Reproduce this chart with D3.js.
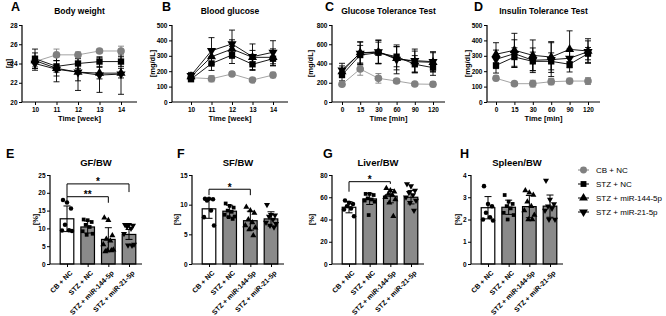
<!DOCTYPE html>
<html lang="en">
<head>
<meta charset="UTF-8">
<title>Body weight, glucose tests and organ ratios</title>
<script src="https://d3js.org/d3.v7.min.js"></script>
<style>
  body { margin: 0; background: #fff; }
  svg { font-family: "Liberation Sans", Arial, sans-serif; }
</style>
</head>
<body>
<svg id="chart" width="666" height="316"></svg>
<script>
// groups and x categories
const groups = ["CB + NC", "STZ + NC", "STZ + miR-144-5p", "STZ + miR-21-5p"];
const weeks = ["10", "11", "12", "13", "14"];
const minutes = ["0", "15", "30", "60", "90", "120"];

// A - body weight [g] (mean, SD), one row per group
const bwMean = [[24.2, 24.9, 24.9, 25.3, 25.3], [24.5, 23.7, 24.0, 24.2, 24.2], [24.3, 23.5, 23.1, 23.0, 23.0], [24.0, 23.4, 23.1, 22.8, 22.9]];
const bwSD = [[0.5, 0.6, 0.3, 0.2, 0.5], [1.0, 0.6, 0.5, 0.5, 0.5], [0.8, 0.8, 0.9, 0.6, 0.5], [0.7, 1.3, 1.9, 1.8, 2.1]];

// B - blood glucose [mg/dL]
const bgMean = [[158, 151, 182, 143, 175], [148, 250, 305, 245, 281], [165, 294, 344, 290, 290], [172, 333, 377, 294, 323]];
const bgSD = [[15, 20, 12, 10, 18], [15, 45, 55, 40, 45], [18, 50, 60, 45, 55], [20, 85, 90, 83, 75]];

// C - glucose tolerance test [mg/dL]
const gttMean = [[184, 343, 246, 218, 187, 184], [280, 488, 512, 471, 392, 357], [315, 512, 520, 454, 419, 412], [332, 506, 520, 443, 430, 419]];
const gttSD = [[20, 65, 50, 22, 15, 25], [60, 100, 110, 105, 90, 80], [60, 110, 120, 120, 110, 100], [70, 120, 124, 150, 120, 104]];

// D - insulin tolerance test [mg/dL]
const ittMean = [[154, 119, 119, 132, 136, 136], [238, 292, 264, 264, 245, 314], [310, 336, 303, 292, 342, 331], [277, 314, 271, 275, 284, 327]];
const ittSD = [[15, 10, 22, 20, 18, 22], [50, 60, 60, 55, 50, 40], [75, 110, 100, 100, 120, 80], [60, 90, 80, 110, 60, 70]];

// E - GF/BW [%]
const gfMean = [12.7, 10.4, 6.9, 8.3];
const gfSD = [3.6, 1.7, 3.3, 1.4];
const gfPoints = [[18.0, 17.3, 15.6, 11.0, 9.5, 9.4, 9.3], [12.5, 12.3, 11.8, 11.0, 10.4, 9.2, 8.5, 8.2], [13.0, 12.3, 8.0, 7.0, 6.5, 5.5, 4.0, 3.8, 3.8, 3.5], [11.0, 11.0, 10.8, 10.5, 10.0, 8.5, 5.5, 5.3, 5.2]];
const gfSig = [{ a: 0, b: 3, y: 22.5, ya: 18.9, yb: 20.2, label: "*" }, { a: 0, b: 2, y: 18.9, ya: 17.2, yb: 17.2, label: "**" }];

// F - SF/BW [%]
const sfMean = [9.3, 8.9, 7.3, 7.6];
const sfSD = [1.6, 1.0, 1.6, 1.2];
const sfPoints = [[11.0, 11.0, 10.9, 10.7, 9.0, 7.9, 6.5], [10.2, 9.8, 9.5, 9.0, 8.8, 8.3, 8.0, 7.9, 7.6], [9.6, 9.0, 8.6, 7.5, 7.0, 6.5, 6.1, 5.8, 4.8], [10.0, 8.3, 8.2, 8.0, 7.5, 7.0, 6.8, 6.5, 6.2]];
const sfSig = [{ a: 0, b: 2, y: 12.6, ya: 11.6, yb: 11.6, label: "*" }];

// G - Liver/BW [%]
const lvMean = [51, 58.5, 61, 60];
const lvSD = [5, 5, 6, 6];
const lvPoints = [[57, 55, 54, 52, 50, 49, 43], [63, 63, 62, 59, 58, 57, 56, 44], [68, 66, 65, 63, 62, 60, 58, 55, 43], [72, 70, 66, 64, 62, 60, 57, 55, 48]];
const lvSig = [{ a: 0, b: 2, y: 74, ya: 65, yb: 72, label: "*" }];

// H - Spleen/BW [%]
const spMean = [2.53, 2.55, 2.58, 2.6];
const spSD = [0.5, 0.32, 0.5, 0.5];
const spPoints = [[3.5, 2.7, 2.6, 2.3, 2.1, 2.0, 1.95], [3.1, 2.8, 2.7, 2.6, 2.5, 2.3, 2.2, 2.0], [3.3, 3.2, 3.1, 2.8, 2.6, 2.4, 2.2, 2.0, 2.0], [3.75, 2.9, 2.7, 2.6, 2.5, 2.4, 2.0, 2.0]];

const svg = d3.select('#chart');
const shapes = [d3.symbolCircle, d3.symbolSquare, d3.symbolTriangle, d3.symbolTriangle];
const markColor = ['#808080', '#000', '#000', '#000'];
const lineColor = ['#9a9a9a', '#000', '#000', '#000'];

function styleAxis(a) {
    a.select('.domain').remove();
    a.attr('font-family', null).attr('font-size', null);
    a.selectAll('line').attr('stroke', '#000').attr('stroke-width', 1);
    a.selectAll('text').attr('fill', '#000').style('font-size', '6.5px').style('font-weight', 'bold');
}

function letter(txt, x, y) {
    svg.append('text').attr('x', x).attr('y', y).text(txt)
        .style('font-size', '12.5px').style('font-weight', 'bold');
}

function title(txt, x, y, size) {
    svg.append('text').attr('x', x).attr('y', y).attr('text-anchor', 'middle').text(txt)
        .style('font-size', size + 'px').style('font-weight', 'bold');
}

function yLabel(txt, x, y) {
    svg.append('text').attr('transform', `translate(${x},${y}) rotate(-90)`)
        .attr('text-anchor', 'middle').attr('dy', '0.35em').text(txt)
        .style('font-size', '7.5px').style('font-weight', 'bold');
}

function symbolAt(g, i, cx, cy, size, color) {
    g.append('path')
        .attr('d', d3.symbol().type(shapes[i]).size(size)())
        .attr('transform', `translate(${cx},${cy})` + (i === 3 ? ' rotate(180)' : ''))
        .attr('fill', color || markColor[i]);
}

// time course panels (A-D)
function linePanel(p) {
    const g = svg.append('g');
    const top = 25, bottom = 102;
    const x = d3.scalePoint().domain(p.cats).range(p.xr);
    const y = d3.scaleLinear().domain(p.yDomain).range([bottom, top]);

    g.append('g').attr('transform', `translate(0,${bottom})`)
        .call(d3.axisBottom(x).tickSize(3).tickPadding(2)).call(styleAxis);
    g.append('g').attr('transform', `translate(${p.x0},0)`)
        .call(d3.axisLeft(y).tickValues(p.yTicks).tickFormat(d3.format('d')).tickSize(3).tickPadding(1.5)).call(styleAxis);
    g.append('path').attr('d', `M${p.x0},${top}V${bottom}H${p.x1}`)
        .attr('fill', 'none').attr('stroke', '#000').attr('stroke-width', 1.2);

    p.mean.forEach((m, i) => {
        const pts = m.map((v, j) => ({ c: p.cats[j], v: v, sd: p.sd[i][j] }));
        const s = g.append('g');
        s.append('path').datum(pts)
            .attr('d', d3.line().x(d => x(d.c)).y(d => y(d.v)))
            .attr('fill', 'none').attr('stroke', lineColor[i]).attr('stroke-width', 0.9);
        pts.forEach(d => {
            const cx = x(d.c), y1 = y(d.v + d.sd), y2 = y(d.v - d.sd);
            s.append('path')
                .attr('d', `M${cx},${y1}V${y2}M${cx - 3},${y1}H${cx + 3}M${cx - 3},${y2}H${cx + 3}`)
                .attr('stroke', markColor[i]).attr('stroke-width', 0.9).attr('fill', 'none');
        });
    });
    p.mean.forEach((m, i) => {
        m.forEach((v, j) => symbolAt(g, i, x(p.cats[j]), y(v), i === 0 ? 46 : (i === 1 ? 40 : 36)));
    });

    title(p.title, (p.x0 + p.x1) / 2, 14, 8.5);
    svg.append('text').attr('x', (p.x0 + p.x1) / 2).attr('y', 121).attr('text-anchor', 'middle')
        .text(p.xLabel).style('font-size', '7.5px').style('font-weight', 'bold');
    yLabel(p.yLabel, p.x0 + p.yLabelOff, (top + bottom) / 2);
}

// bar + scatter panels (E-H)
const jitter = [-4, 0, 4, -2, 2, -5, 5, -1, 3, -3];
function barPanel(p) {
    const g = svg.append('g');
    const top = 175, bottom = 264;
    const x = d3.scalePoint().domain(groups).range([p.x0 + 17, p.x0 + 79]);
    const y = d3.scaleLinear().domain(p.yDomain).range([bottom, top]);
    const bw = 13.6;

    p.mean.forEach((m, i) => {
        const cx = x(groups[i]);
        g.append('rect').attr('x', cx - bw / 2).attr('y', y(m)).attr('width', bw).attr('height', y(0) - y(m))
            .attr('fill', i === 0 ? '#fff' : '#8a8a8a').attr('stroke', '#000').attr('stroke-width', 1.2);
    });
    p.points.forEach((vals, i) => {
        const cx = x(groups[i]);
        vals.forEach((v, k) => symbolAt(g, i, cx + jitter[k % jitter.length], y(v), i === 1 ? 14 : 16, '#000'));
    });
    p.mean.forEach((m, i) => {
        const cx = x(groups[i]), y1 = y(m + p.sd[i]), y2 = y(m - p.sd[i]);
        g.append('path')
            .attr('d', `M${cx},${y1}V${y2}M${cx - 3.5},${y1}H${cx + 3.5}M${cx - 3.5},${y2}H${cx + 3.5}`)
            .attr('stroke', '#000').attr('stroke-width', 1).attr('fill', 'none');
    });

    g.append('g').attr('transform', `translate(0,${bottom})`)
        .call(d3.axisBottom(x).tickSize(3).tickFormat('')).call(styleAxis);
    g.append('g').attr('transform', `translate(${p.x0},0)`)
        .call(d3.axisLeft(y).tickValues(p.yTicks).tickFormat(d3.format('d')).tickSize(3).tickPadding(1.5)).call(styleAxis);
    g.append('path').attr('d', `M${p.x0},${top}V${bottom}H${p.x0 + 92}`)
        .attr('fill', 'none').attr('stroke', '#000').attr('stroke-width', 1.2);

    groups.forEach(name => {
        g.append('text').attr('transform', `translate(${x(name) + 2.5},${bottom + 6}) rotate(-45)`)
            .attr('text-anchor', 'end').attr('dy', '0.7em').text(name)
            .style('font-size', '7px').style('font-weight', 'bold');
    });

    (p.sig || []).forEach(s => {
        const xa = x(groups[s.a]), xb = x(groups[s.b]);
        g.append('path').attr('d', `M${xa},${y(s.ya)}V${y(s.y)}H${xb}V${y(s.yb)}`)
            .attr('fill', 'none').attr('stroke', '#000').attr('stroke-width', 1);
        g.append('text').attr('x', (xa + xb) / 2).attr('y', y(s.y) + 1.5).attr('text-anchor', 'middle')
            .text(s.label).style('font-size', '10px').style('font-weight', 'bold');
    });

    title(p.title, p.x0 + 46, 166, 9.5);
    yLabel('[%]', p.x0 + p.yLabelOff, (top + bottom) / 2);
}

linePanel({ cats: weeks, xr: [35, 121], x0: 22, x1: 137, yDomain: [20, 28], yTicks: [20, 22, 24, 26, 28],
    mean: bwMean, sd: bwSD, title: 'Body weight', xLabel: 'Time [week]', yLabel: '[g]', yLabelOff: -14 });
linePanel({ cats: weeks, xr: [191, 273], x0: 172, x1: 288, yDomain: [0, 500], yTicks: d3.range(0, 501, 100),
    mean: bgMean, sd: bgSD, title: 'Blood glucose', xLabel: 'Time [week]', yLabel: '[mg/dL]', yLabelOff: -20 });
linePanel({ cats: minutes, xr: [342, 433], x0: 332, x1: 445, yDomain: [0, 800], yTicks: d3.range(0, 801, 200),
    mean: gttMean, sd: gttSD, title: 'Glucose Tolerance Test', xLabel: 'Time [min]', yLabel: '[mg/dL]', yLabelOff: -22 });
linePanel({ cats: minutes, xr: [496, 588], x0: 487, x1: 600, yDomain: [0, 500], yTicks: d3.range(0, 501, 100),
    mean: ittMean, sd: ittSD, title: 'Insulin Tolerance Test', xLabel: 'Time [min]', yLabel: '[mg/dL]', yLabelOff: -20 });

barPanel({ x0: 50, yDomain: [0, 25], yTicks: [0, 5, 10, 15, 20, 25], mean: gfMean, sd: gfSD, points: gfPoints, sig: gfSig, title: 'GF/BW', yLabelOff: -15 });
barPanel({ x0: 192, yDomain: [0, 15], yTicks: [0, 5, 10, 15], mean: sfMean, sd: sfSD, points: sfPoints, sig: sfSig, title: 'SF/BW', yLabelOff: -16 });
barPanel({ x0: 332, yDomain: [0, 80], yTicks: [0, 20, 40, 60, 80], mean: lvMean, sd: lvSD, points: lvPoints, sig: lvSig, title: 'Liver/BW', yLabelOff: -21 });
barPanel({ x0: 471, yDomain: [0, 4], yTicks: [0, 1, 2, 3, 4], mean: spMean, sd: spSD, points: spPoints, title: 'Spleen/BW', yLabelOff: -14 });

letter('A', 11, 11); letter('B', 162, 11); letter('C', 325, 11); letter('D', 474, 11);
letter('E', 6, 158); letter('F', 177, 158); letter('G', 323, 158); letter('H', 460, 158);

// legend
const legend = svg.append('g');
groups.forEach((name, i) => {
    const ly = 170 + i * 14;
    legend.append('line').attr('x1', 578).attr('x2', 589).attr('y1', ly).attr('y2', ly)
        .attr('stroke', markColor[i]).attr('stroke-width', 1);
    symbolAt(legend, i, 583.5, ly, i === 0 ? 38 : 34);
    legend.append('text').attr('x', 596).attr('y', ly).attr('dy', '0.35em').text(name)
        .style('font-size', '8px');
});
</script>
</body>
</html>
